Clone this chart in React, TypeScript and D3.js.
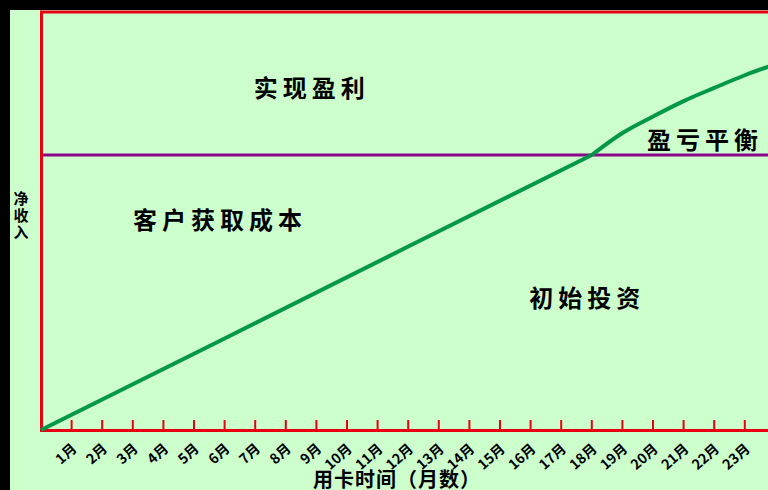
import React from "react";
import * as d3 from "d3";

const months = [0, 6, 12, 18, 19, 20, 21, 22, 23, 24];
const netIncome = [0, 33.3, 66.7, 100, 108, 114, 119.6, 124.4, 129, 133];
const tickMonths = d3.range(1, 24);
const tickLabels = tickMonths.map((m) => `${m}月`);
const breakEven = 100;
const breakEvenMonth = 18;

const regionLabels = [
  { text: "实现盈利", m: 8.85, v: 125 },
  { text: "客户获取成本", m: 5.85, v: 77 },
  { text: "初始投资", m: 17.85, v: 48.5 },
  { text: "盈亏平衡", m: 21.7, v: 106 },
];
const yTitle = "净收入";

const W = 768;
const H = 490;
const FONT = "'Noto Sans CJK SC', 'Noto Sans', sans-serif";

export default function App() {
  const x = d3.scaleLinear().domain([0, 24]).range([41, 41 + 24 * 30.6]);
  const y = d3.scaleLinear().domain([0, 100]).range([430, 155]);
  const pts = months.map((m, i) => [m, netIncome[i]] as [number, number]);
  const firstPart = pts.filter((d) => d[0] <= breakEvenMonth);
  const secondPart = pts.filter((d) => d[0] >= breakEvenMonth);
  const straight = d3
    .line<[number, number]>()
    .x((d) => x(d[0]))
    .y((d) => y(d[1]));
  const smooth = d3
    .line<[number, number]>()
    .x((d) => x(d[0]))
    .y((d) => y(d[1]))
    .curve(d3.curveMonotoneX);

  return (
    <svg
      width={W}
      height={H}
      style={{ position: "fixed", left: 0, top: 0, display: "block" }}
    >
      <rect x={0} y={0} width={W} height={H} fill="#000" />
      <rect x={10} y={10} width={W - 10} height={H - 10} fill="#CCFFCC" />
      {/* frame */}
      <line x1={40} x2={W} y1={12} y2={12} stroke="#E60012" strokeWidth={3} />
      <line x1={41.5} x2={41.5} y1={11} y2={432} stroke="#E60012" strokeWidth={3} />
      {/* break-even line */}
      <line
        x1={43}
        x2={W}
        y1={y(breakEven)}
        y2={y(breakEven)}
        stroke="#8B088B"
        strokeWidth={3}
      />
      {/* x axis */}
      <line x1={40} x2={W} y1={430.5} y2={430.5} stroke="#E60012" strokeWidth={3} />
      {tickMonths.map((m, i) => (
        <g key={m}>
          <line
            x1={x(m)}
            x2={x(m)}
            y1={420}
            y2={430}
            stroke="#E60012"
            strokeWidth={2}
          />
          <text
            transform={`translate(${x(m) + 6},${450}) rotate(-42)`}
            textAnchor="end"
            fontFamily={FONT}
            fontWeight="bold"
            fontSize={14}
            fill="#000"
          >
            {tickLabels[i]}
          </text>
        </g>
      ))}
      {/* curve */}
      <path
        d={straight(firstPart) || ""}
        fill="none"
        stroke="#009848"
        strokeWidth={4}
      />
      <path
        d={smooth(secondPart) || ""}
        fill="none"
        stroke="#009848"
        strokeWidth={4}
      />
      {/* region labels */}
      {regionLabels.map((l) => (
        <text
          key={l.text}
          x={x(l.m)}
          y={y(l.v)}
          textAnchor="middle"
          dominantBaseline="central"
          fontFamily={FONT}
          fontWeight="bold"
          fontSize={24}
          letterSpacing={5}
          fill="#000"
        >
          {l.text}
        </text>
      ))}
      {/* y axis title */}
      <text
        x={21}
        y={191}
        style={{ writingMode: "vertical-rl" }}
        fontFamily={FONT}
        fontWeight="bold"
        fontSize={15}
        letterSpacing={2}
        fill="#000"
      >
        {yTitle}
      </text>
      {/* x axis title */}
      <text
        x={313}
        y={487}
        fontFamily={FONT}
        fontWeight="bold"
        fontSize={20}
        letterSpacing={1}
        fill="#000"
      >
        用卡时间（月数）
      </text>
    </svg>
  );
}
